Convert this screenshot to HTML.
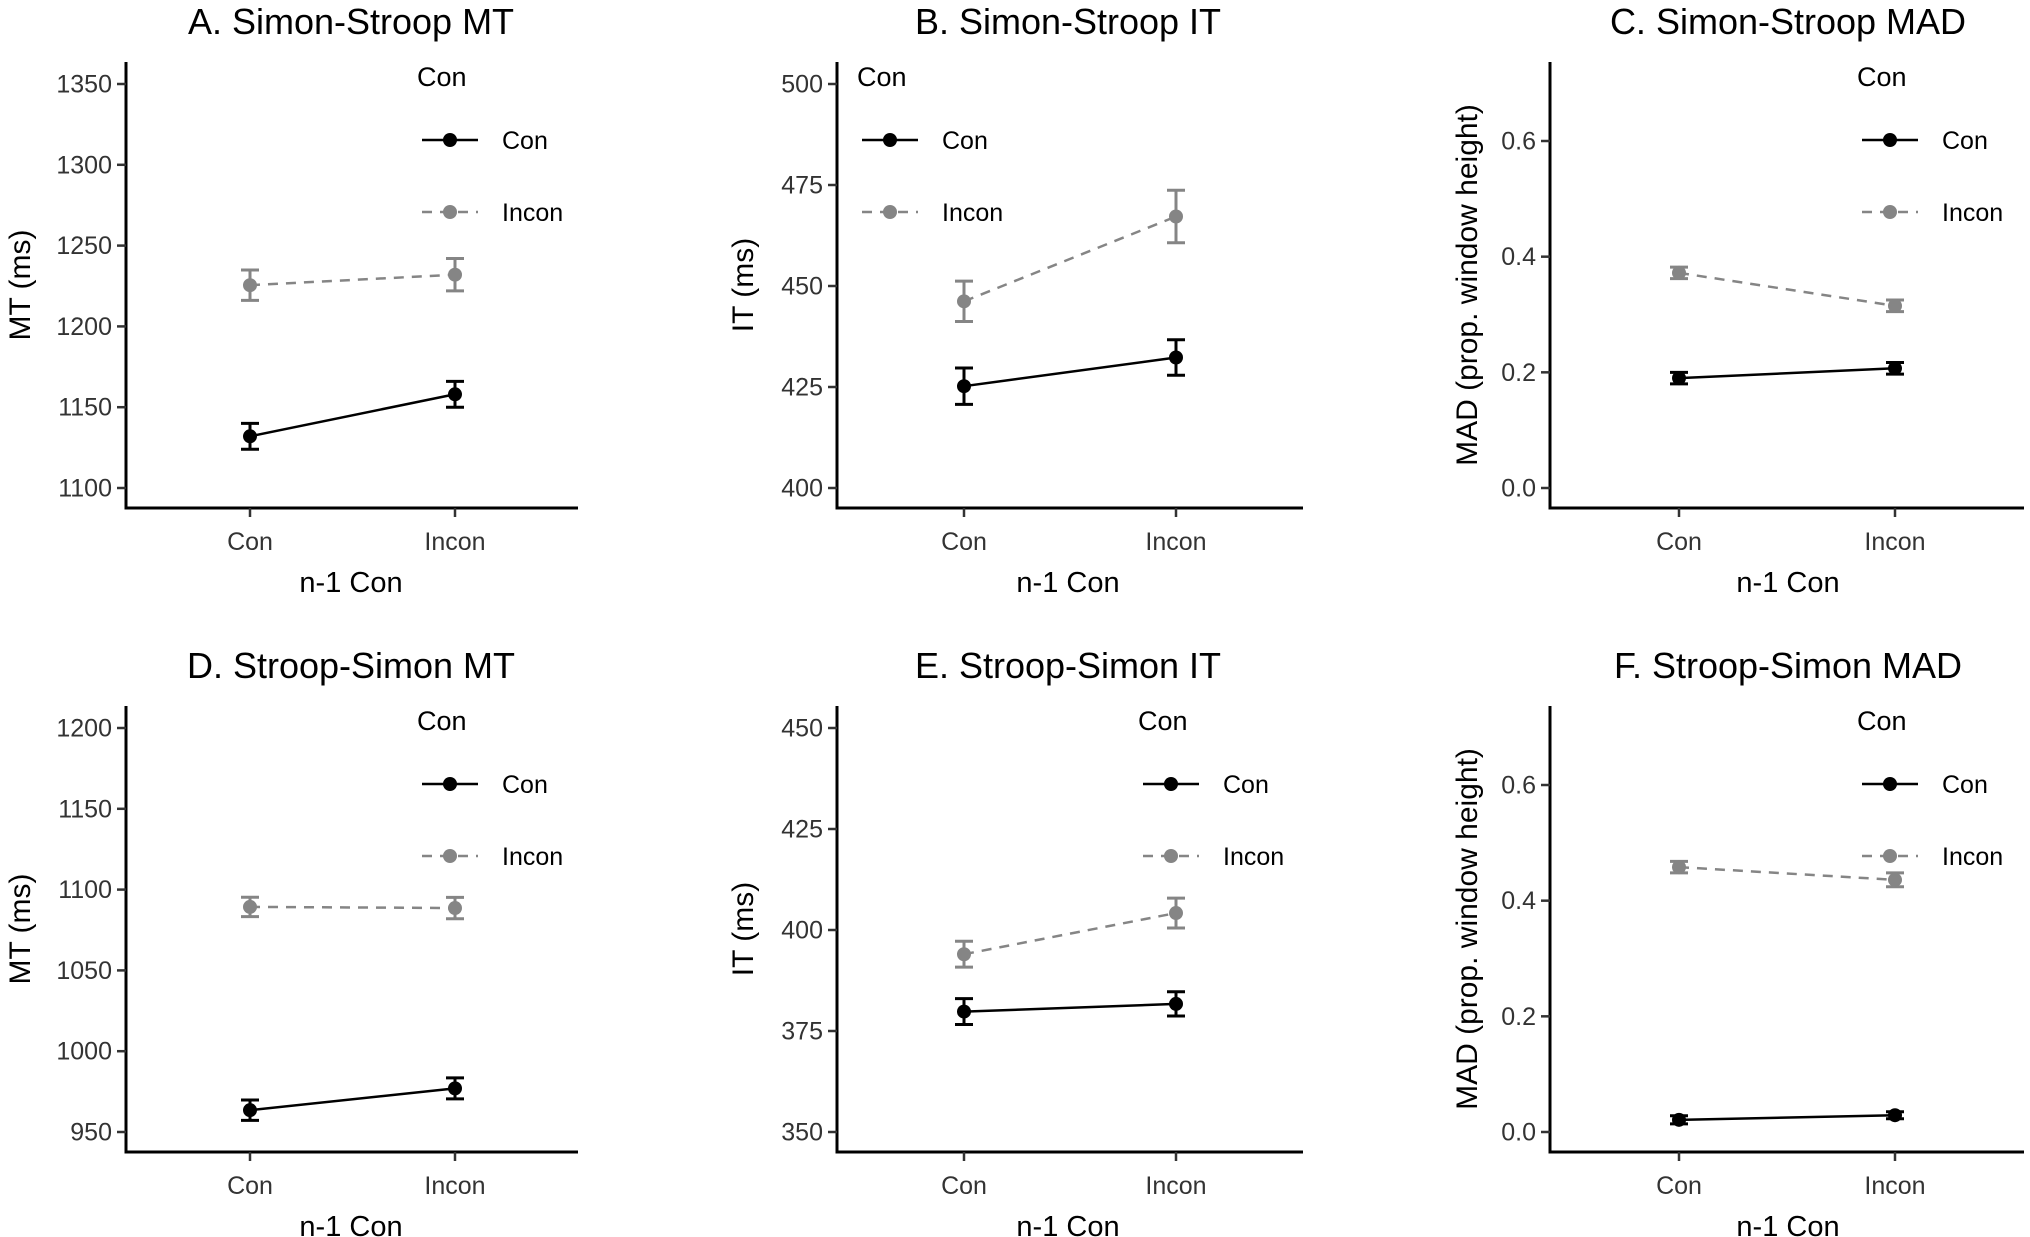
<!DOCTYPE html>
<html><head><meta charset="utf-8">
<style>
html,body{margin:0;padding:0;background:#fff;}
svg{display:block;font-family:"Liberation Sans",Arial,sans-serif;}
</style></head>
<body>
<svg id="fig" width="2030" height="1237" viewBox="0 0 2030 1237" xmlns="http://www.w3.org/2000/svg"></svg>
<script>
// ---- data ----
const categories = ["Con", "Incon"];
const panelTitles = ["A. Simon-Stroop MT","B. Simon-Stroop IT","C. Simon-Stroop MAD","D. Stroop-Simon MT","E. Stroop-Simon IT","F. Stroop-Simon MAD"];
const yTitles = ["MT (ms)","IT (ms)","MAD (prop. window height)","MT (ms)","IT (ms)","MAD (prop. window height)"];
const tickValsA = [1100,1150,1200,1250,1300,1350];
const tickValsB = [400,425,450,475,500];
const tickValsC = [0.0,0.2,0.4,0.6];
const tickValsD = [950,1000,1050,1100,1150,1200];
const tickValsE = [350,375,400,425,450];
const tickValsF = [0.0,0.2,0.4,0.6];
const conMeans   = [[1132,1158],[425.2,432.3],[0.190,0.207],[963.5,977],[379.8,381.7],[0.021,0.029]];
const conErr     = [[8,8],[4.5,4.4],[0.010,0.010],[6.3,6.5],[3.2,3.0],[0.007,0.006]];
const inconMeans = [[1225.5,1232],[446.2,467.2],[0.372,0.315],[1089.3,1088.6],[394,404.2],[0.458,0.436]];
const inconErr   = [[9.4,10],[5,6.5],[0.010,0.010],[6,6.6],[3.2,3.7],[0.010,0.012]];
const legendTitle = "Con";
const legendLabels = ["Con","Incon"];

const tickVals = [tickValsA,tickValsB,tickValsC,tickValsD,tickValsE,tickValsF];

// ---- layout ----
const NS = "http://www.w3.org/2000/svg";
const svg = document.getElementById("fig");
const colAxisX = [126, 837, 1550];
const colAxisEnd = [578, 1303, 2024];
const colConX = [250, 964, 1679];
const colInconX = [455, 1176, 1895];
const colTitleX = [351, 1068, 1788];
const colYTitleX = [20, 743, 1467];
const colLegendX = [417, 857, 1857];
const colTopTickY = [84, 84, 141];
const rowOff = [0, 644];
const legendXRow2 = [417, 1138, 1857];
const GRAY = "#858585";

function el(tag, attrs, parent){
  const e = document.createElementNS(NS, tag);
  for (const k in attrs) e.setAttribute(k, attrs[k]);
  (parent||svg).appendChild(e);
  return e;
}

for (let p = 0; p < 6; p++){
  const col = p % 3, row = Math.floor(p/3), oy = rowOff[row];
  const g = el("g", {});
  
  
  const ticks = tickVals[p];
  const tMin = ticks[0], tMax = ticks[ticks.length-1];
  const yTopTick = colTopTickY[col] + oy, yBotTick = 488 + oy;
  const yScale = v => yBotTick - (v - tMin) / (tMax - tMin) * (yBotTick - yTopTick);
  const xPos = [colConX[col], colInconX[col]];
  const ax = colAxisX[col], axisY = 508 + oy;

  const t = el("text", {x: colTitleX[col], y: 34 + oy, "text-anchor":"middle", "font-size":36, fill:"#000"}, g);
  t.textContent = panelTitles[p];
  
  

  const yax = el("line", {x1: ax, y1: 62 + oy, x2: ax, y2: axisY + 1.5, stroke:"#000", "stroke-width":3}, g);
  
  
  const xax = el("line", {x1: ax - 1.5, y1: axisY, x2: colAxisEnd[col], y2: axisY, stroke:"#000", "stroke-width":3}, g);
  
  

  ticks.forEach((v, i) => {
    const y = yScale(v);
    el("line", {x1: ax - 9, y1: y, x2: ax, y2: y, stroke:"#333", "stroke-width":2.5}, g);
    const lab = el("text", {x: ax - 14, y: y + 8.5, "text-anchor":"end", "font-size":25, fill:"#333"}, g);
    lab.textContent = (col === 2) ? v.toFixed(1) : String(v);
    
    
  });
  categories.forEach((c, i) => {
    el("line", {x1: xPos[i], y1: axisY, x2: xPos[i], y2: axisY + 9, stroke:"#333", "stroke-width":2.5}, g);
    const lab = el("text", {x: xPos[i], y: 550 + oy, "text-anchor":"middle", "font-size":25, fill:"#333"}, g);
    lab.textContent = c;
    
    
  });
  const xt = el("text", {x: colTitleX[col], y: 592 + oy, "text-anchor":"middle", "font-size":29, fill:"#000"}, g);
  xt.textContent = "n-1 Con";
  
  
  const cy = (62 + 508) / 2 + oy;
  const yt = el("text", {x: colYTitleX[col] + 10, y: cy, "text-anchor":"middle", "font-size":30, fill:"#000", transform:`rotate(-90 ${colYTitleX[col]+10} ${cy})`}, g);
  yt.textContent = yTitles[p];
  
  

  const series = [
    {m: inconMeans[p], e: inconErr[p], color: GRAY, dash: "10,8", name: "incon"},
    {m: conMeans[p], e: conErr[p], color: "#000", dash: null, name: "con"}
  ];
  series.forEach(s => {
    const ln = el("line", {x1: xPos[0], y1: yScale(s.m[0]), x2: xPos[1], y2: yScale(s.m[1]), stroke: s.color, "stroke-width":2.5}, g);
    if (s.dash) ln.setAttribute("stroke-dasharray", s.dash);
    
    
    s.m.forEach((v, i) => {
      const x = xPos[i], yh = yScale(v + s.e[i]), yl = yScale(v - s.e[i]);
      const eb = el("path", {d:`M${x-9},${yh}H${x+9}M${x},${yh}V${yl}M${x-9},${yl}H${x+9}`, stroke: s.color, "stroke-width":3, fill:"none"}, g);
      
      
      const pt = el("circle", {cx: x, cy: yScale(v), r: 7, fill: s.color}, g);
      
      
    });
  });

  const lx = row === 0 ? colLegendX[col] : legendXRow2[col];
  const lt = el("text", {x: lx, y: 86 + oy, "font-size":27, fill:"#000"}, g);
  lt.textContent = legendTitle;
  
  
  legendLabels.forEach((lab, i) => {
    const ly = (i === 0 ? 140 : 212) + oy;
    const color = i === 0 ? "#000" : GRAY;
    const kl = el("line", {x1: lx + 5, y1: ly, x2: lx + 61, y2: ly, stroke: color, "stroke-width":2.5}, g);
    if (i === 1) kl.setAttribute("stroke-dasharray", "10,8");
    
    
    const kp = el("circle", {cx: lx + 33, cy: ly, r: 7, fill: color}, g);
    
    
    const tx = el("text", {x: lx + 85, y: ly + 9, "font-size":25, fill:"#000"}, g);
    tx.textContent = lab;
    
    
  });
}
</script>
</body></html>
